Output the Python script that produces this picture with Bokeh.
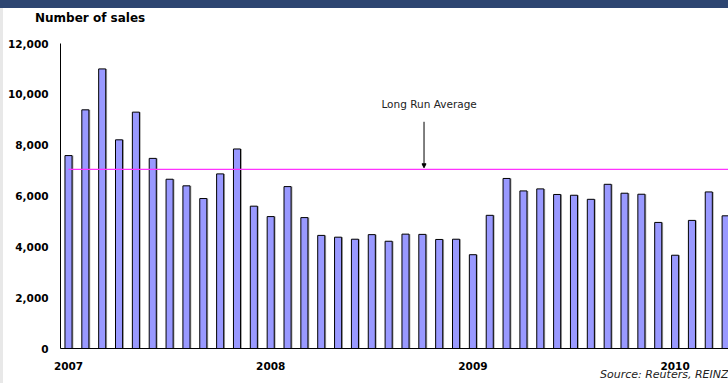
from bokeh.plotting import figure
from bokeh.models import (Range1d, FixedTicker, NumeralTickFormatter, Label, Title,
                          Arrow, NormalHead, Div, ColumnDataSource)
from bokeh.layouts import column, row
from bokeh.transform import dodge
from bokeh.embed import file_html
from bokeh.resources import INLINE

# ---- data ----
years = ["2007", "2008", "2009", "2010"]
month_names = ["Jan", "Feb", "Mar", "Apr", "May", "Jun",
               "Jul", "Aug", "Sep", "Oct", "Nov", "Dec"]
sales_2007 = [7590, 9390, 11000, 8210, 9300, 7480, 6660, 6400, 5900, 6870, 7850, 5600]
sales_2008 = [5190, 6370, 5150, 4450, 4380, 4300, 4480, 4220, 4500, 4490, 4290, 4300]
sales_2009 = [3690, 5240, 6690, 6200, 6280, 6060, 6030, 5870, 6460, 6110, 6070, 4960]
sales_2010 = [3670, 5040, 6160, 5220]
long_run_average = 7050
y_ticks = [0, 2000, 4000, 6000, 8000, 10000, 12000]

sales = sales_2007 + sales_2008 + sales_2009 + sales_2010
months = [f"{m} {y}" for y in years for m in month_names][:len(sales)]
idx = list(range(len(sales)))
year_pos = [months.index(f"Jan {y}") for y in years]

src = ColumnDataSource(dict(x=idx, sales=sales, month=months))

FONT = "DejaVu Sans"

p = figure(width=725, height=355, x_range=Range1d(-0.475, 39.17), y_range=Range1d(0, 12000),
           output_backend="svg", toolbar_location=None,
           min_border_left=57, min_border_right=0, min_border_top=15, min_border_bottom=35)
p.outline_line_color = None
p.background_fill_color = "white"
p.border_fill_color = "white"
p.xgrid.visible = False
p.ygrid.visible = False

# shadow + bars
p.vbar(x=dodge("x", 0.08), top="sales", width=0.42, source=src, fill_color="#909090",
       fill_alpha=0.8, line_color=None)
p.vbar(x="x", top="sales", width=0.42, source=src, fill_color="#9999FF",
       line_color="#000000", line_width=1)

# long run average line
p.segment(x0=[0], x1=[39.17], y0=[long_run_average], y1=[long_run_average],
          line_color="#FF33FF", line_width=1.3)

p.add_layout(Arrow(end=NormalHead(size=4, fill_color="black", line_color="black"),
                   x_start=21.1, y_start=8920, x_end=21.1, y_end=long_run_average + 60,
                   line_color="black", line_width=1))
p.add_layout(Label(x=21.4, y=9630, text="Long Run Average", text_align="center",
                   text_baseline="middle", text_font=FONT, text_font_size="10.5px",
                   text_color="#222222"))

# axes
p.yaxis.ticker = FixedTicker(ticks=y_ticks)
p.yaxis.formatter = NumeralTickFormatter(format="0,0")
p.yaxis.major_tick_line_color = None
p.yaxis.minor_tick_line_color = None
p.yaxis.major_tick_out = 0
p.yaxis.major_label_standoff = 12
p.yaxis.axis_line_color = "black"
p.yaxis.major_label_text_font = FONT
p.yaxis.major_label_text_font_style = "bold"
p.yaxis.major_label_text_font_size = "10.5px"
p.yaxis.major_label_text_color = "black"

p.xaxis.ticker = FixedTicker(ticks=year_pos)
p.xaxis.major_label_overrides = {pos: y for pos, y in zip(year_pos, years)}
p.xaxis.major_tick_line_color = None
p.xaxis.minor_tick_line_color = None
p.xaxis.major_tick_out = 0
p.xaxis.major_label_standoff = 13
p.xaxis.axis_line_color = "black"
p.xaxis.major_label_text_font = FONT
p.xaxis.major_label_text_font_style = "bold"
p.xaxis.major_label_text_font_size = "10.5px"
p.xaxis.major_label_text_color = "black"

# source note
p.add_layout(Title(text="Source: Reuters, REINZ", align="right", text_font=FONT,
                   text_font_size="11px", text_font_style="italic", standoff=-16,
                   text_color="#222222"), "below")

title_div = Div(text=('<div style="padding-left:32px;font-family:\'DejaVu Sans\';'
                      'font-size:12px;font-weight:bold;line-height:20px;color:black;">'
                      'Number of sales</div>'),
                width=725, height=20, margin=0, styles={"background-color": "white"})
band = Div(width=728, height=8, margin=0, styles={"background-color": "#2D4571"})
strip = Div(width=3, height=375, margin=0, styles={"background-color": "#E8E8E8"})
layout = column(band, row(strip, column(title_div, p, spacing=0), spacing=0), spacing=0)

open("out.html", "w").write(file_html(layout, INLINE))
